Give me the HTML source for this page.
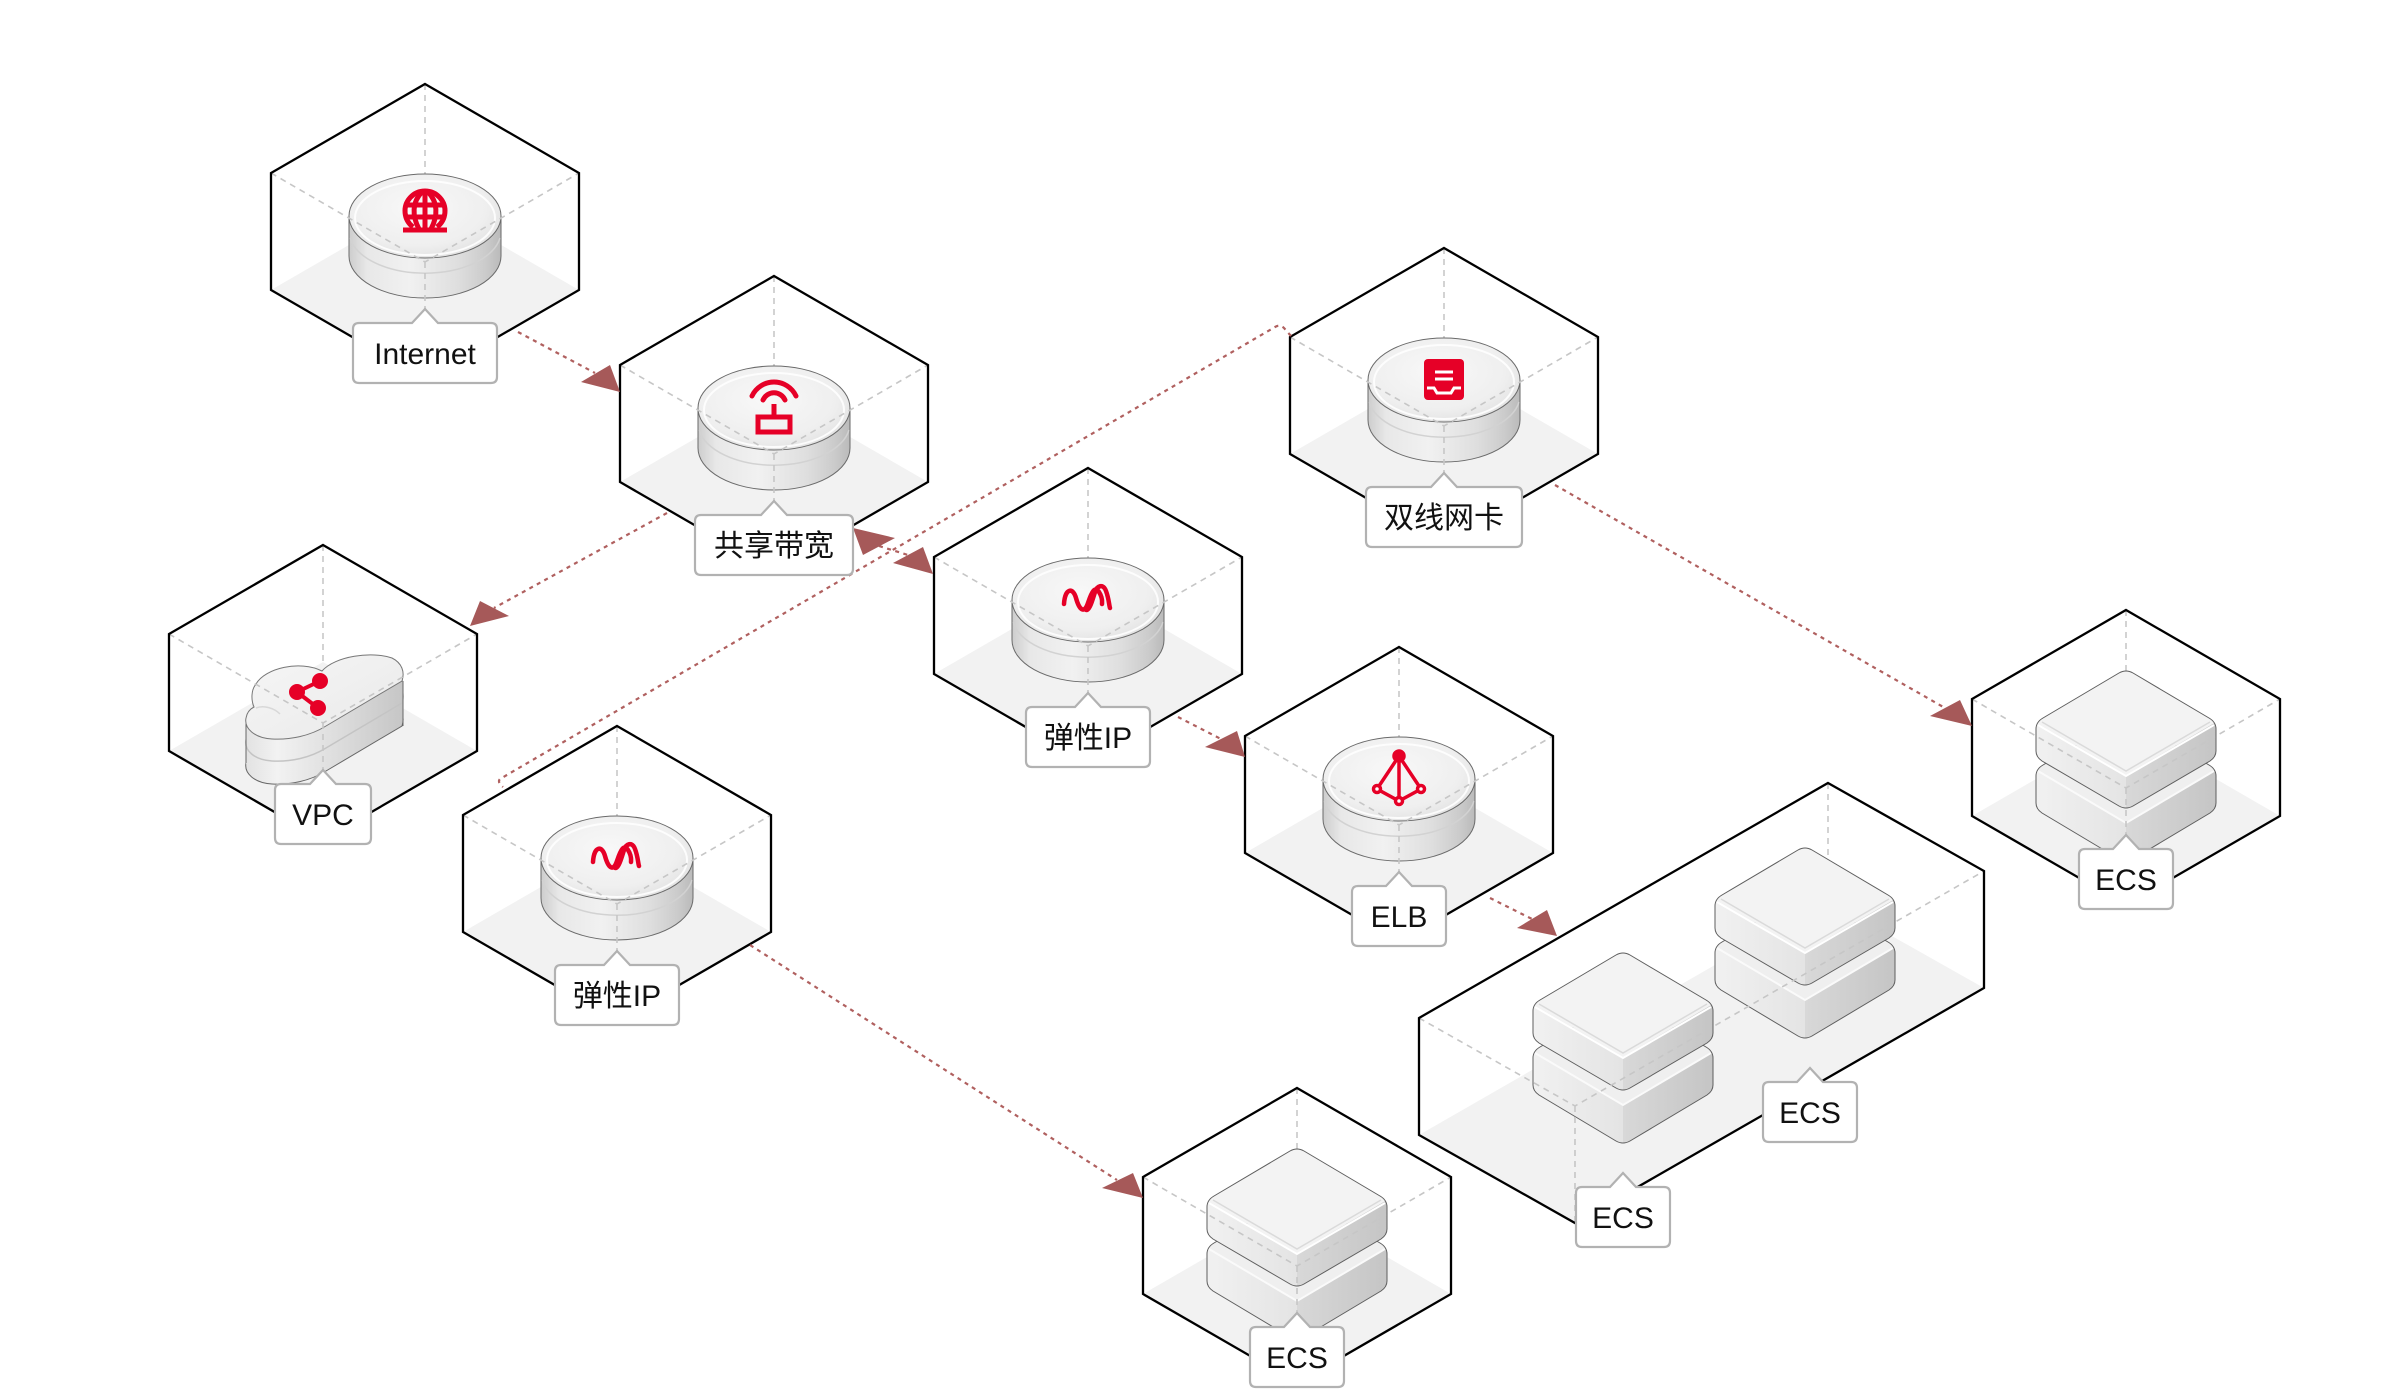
<!DOCTYPE html>
<html><head><meta charset="utf-8"><style>
html,body{margin:0;padding:0;background:#fff;}
svg{display:block;}
text{font-family:"Liberation Sans","Noto Sans CJK SC",sans-serif;font-size:30px;fill:#111;text-anchor:middle;}
</style></head><body>
<svg width="2400" height="1400" viewBox="0 0 2400 1400" xmlns="http://www.w3.org/2000/svg">
<defs>
<linearGradient id="cylSide" x1="0" x2="1" y1="0" y2="0">
<stop offset="0" stop-color="#cdcdcd"/><stop offset="0.12" stop-color="#e8e8e8"/><stop offset="0.4" stop-color="#f1f1f1"/><stop offset="0.72" stop-color="#dedede"/><stop offset="0.9" stop-color="#cbcbcb"/><stop offset="1" stop-color="#bababa"/>
</linearGradient>
<radialGradient id="cylTop" cx="0.45" cy="0.4" r="0.65">
<stop offset="0" stop-color="#f8f8f8"/><stop offset="0.7" stop-color="#efefef"/><stop offset="1" stop-color="#e0e0e0"/>
</radialGradient>
<linearGradient id="ecsL" x1="0" x2="1" y1="0" y2="0"><stop offset="0" stop-color="#f1f1f1"/><stop offset="1" stop-color="#e4e4e4"/></linearGradient>
<linearGradient id="ecsR" x1="0" x2="1" y1="0" y2="0"><stop offset="0" stop-color="#d8d8d8"/><stop offset="1" stop-color="#c5c5c5"/></linearGradient>
<linearGradient id="cloudSide" x1="0" x2="1" y1="0" y2="0"><stop offset="0" stop-color="#e2e2e2"/><stop offset="0.2" stop-color="#f2f2f2"/><stop offset="0.6" stop-color="#dcdcdc"/><stop offset="1" stop-color="#c6c6c6"/></linearGradient>
<linearGradient id="cloudTop" x1="0" x2="1" y1="0" y2="1"><stop offset="0" stop-color="#f6f6f6"/><stop offset="1" stop-color="#e9e9e9"/></linearGradient>

<g id="hb">
<path d="M-154,206 L0,117 L154,206 L0,295 Z" fill="#f2f2f2"/>
<path d="M0,0 V117" stroke="#c8c8c8" stroke-width="1.6" stroke-dasharray="6 5" fill="none"/>
</g>
<g id="hf" fill="none">
<path d="M-154,89 L0,178 L154,89 M0,178 V295" stroke="#c6c6c6" stroke-width="1.6" stroke-dasharray="6 5"/>
<path d="M0,0 L154,89 L154,206 L0,295 L-154,206 L-154,89 Z" stroke="#000" stroke-width="2.3"/>
</g>
<g id="cyl">
<path d="M-76,132 L-76,172 A76,42 0 0 0 76,172 L76,132 Z" fill="url(#cylSide)" stroke="#6a6a6a" stroke-width="1"/>
<path d="M-75,154 A76,42 0 0 0 75,154" fill="none" stroke="#d2d2d2" stroke-width="1.5"/>
<ellipse cx="0" cy="132" rx="76" ry="42" fill="url(#cylTop)" stroke="#6a6a6a" stroke-width="1"/>
<ellipse cx="0" cy="134" rx="70" ry="37" fill="none" stroke="#ffffff" stroke-width="2" opacity="0.85"/>
</g>
<clipPath id="ecsClipU"><path d="M-7,4 Q0,0 7,4 L83,49 Q90,53 90,60 V82 Q90,88 84,92 L7,137 Q0,141 -7,137 L-84,92 Q-90,88 -90,82 V60 Q-90,53 -83,49 Z"/></clipPath>
<clipPath id="ecsClipL"><path d="M-7,51 Q0,47 7,51 L83,96 Q90,100 90,107 V134 Q90,140 84,144 L7,190 Q0,194 -7,190 L-84,144 Q-90,140 -90,134 V107 Q-90,100 -83,96 Z"/></clipPath>
<g id="ecs">
<g clip-path="url(#ecsClipL)">
<path d="M0,47 L90,100 L0,153 L-90,100 Z" fill="#efefef"/>
<path d="M-90,100 L0,153 L0,194 L-90,141 Z" fill="url(#ecsL)"/>
<path d="M0,153 L90,100 L90,141 L0,194 Z" fill="url(#ecsR)"/>
<path d="M-88,102 L0,154 L88,102" fill="none" stroke="#fafafa" stroke-width="2"/>
</g>
<path d="M-7,51 Q0,47 7,51 L83,96 Q90,100 90,107 V134 Q90,140 84,144 L7,190 Q0,194 -7,190 L-84,144 Q-90,140 -90,134 V107 Q-90,100 -83,96 Z" fill="none" stroke="#5e5e5e" stroke-width="1"/>
<g clip-path="url(#ecsClipU)">
<path d="M0,0 L90,53 L0,106 L-90,53 Z" fill="#f3f3f3"/>
<path d="M-90,53 L0,106 L0,142 L-90,89 Z" fill="url(#ecsL)"/>
<path d="M0,106 L90,53 L90,89 L0,142 Z" fill="url(#ecsR)"/>
<path d="M-84,53 L0,102 L84,53" fill="none" stroke="#dadada" stroke-width="1.5"/>
<path d="M-88,56 L0,107 L88,56" fill="none" stroke="#ffffff" stroke-width="2"/>
</g>
<path d="M-7,4 Q0,0 7,4 L83,49 Q90,53 90,60 V82 Q90,88 84,92 L7,137 Q0,141 -7,137 L-84,92 Q-90,88 -90,82 V60 Q-90,53 -83,49 Z" fill="none" stroke="#5e5e5e" stroke-width="1"/>
</g>
<path id="cloudP" d="M256,684 C265,668 300,660 322,671 C335,656 372,651 392,658 C402,663 405,672 402,681 L326,726 C310,736 290,740 272,739 C254,738 244,728 246,718 C247,712 250,709 254,707 C251,700 251,690 256,684 Z"/>
<g id="eip" stroke="#e60027" stroke-width="4.5" fill="none" stroke-linecap="round">
<path d="M-24,136 C-23,120 -15,119 -12,130 S-4,147 0,135 S7,118 11,124 S14,134 14,136"/>
<path d="M-3,141 C1,146 5,130 7,124 S15,115 18,123 S21,137 22,140"/>
</g>
</defs>

<!-- floors & back edges -->
<use href="#hb" transform="translate(425,84)"/>
<use href="#hb" transform="translate(774,276)"/>
<use href="#hb" transform="translate(323,545)"/>
<use href="#hb" transform="translate(1444,248)"/>
<use href="#hb" transform="translate(1088,468)"/>
<use href="#hb" transform="translate(1399,647)"/>
<use href="#hb" transform="translate(617,726)"/>
<use href="#hb" transform="translate(2126,610)"/>
<use href="#hb" transform="translate(1297,1088)"/>
<path d="M1419,1135 L1828,900 L1984,988 L1575,1223 Z" fill="#f2f2f2"/>
<path d="M1828,783 V900" stroke="#c8c8c8" stroke-width="1.6" stroke-dasharray="6 5" fill="none"/>

<!-- cylinders -->
<use href="#cyl" transform="translate(425,84)"/>
<use href="#cyl" transform="translate(774,276)"/>
<use href="#cyl" transform="translate(1444,248)"/>
<use href="#cyl" transform="translate(1088,468)"/>
<use href="#cyl" transform="translate(1399,647)"/>
<use href="#cyl" transform="translate(617,726)"/>

<!-- icons -->
<g transform="translate(425,84)" stroke="#e60027" stroke-width="5" fill="none">
<path d="M-12,143 A20,20 0 1 1 12,143"/>
<path d="M0,107 V145"/>
<path d="M-6,145 C-13,132 -13,118 -3,108"/><path d="M6,145 C13,132 13,118 3,108"/>
<path d="M-19,121 H19"/><path d="M-19,133 H19"/>
<path d="M-22,146 H22"/>
</g>
<g transform="translate(774,276)" stroke="#e60027" stroke-width="5" fill="none">
<path d="M-22,120 A24.3,24.3 0 0 1 22,120" stroke-linecap="round"/>
<path d="M-11,124 A12,12 0 0 1 11,124" stroke-linecap="round"/>
<path d="M0,128 V141"/>
<rect x="-16" y="141" width="32" height="15"/>
</g>
<g transform="translate(1444,248)">
<rect x="-20" y="111" width="40" height="41" rx="4" fill="#e60027"/>
<path d="M-9,124 H9 M-9,131 H9 M-17,140 H-10 L-7,145 H7 L10,140 H17" stroke="#fff" stroke-width="3" fill="none"/>
</g>
<use href="#eip" transform="translate(1088,468)"/>
<use href="#eip" transform="translate(617,726)"/>
<g transform="translate(1399,647)" stroke="#e60027" stroke-width="3.5" fill="none">
<path d="M0,109 L-22,142 L0,154 L22,142 Z M0,109 V154"/>
<circle cx="0" cy="109" r="5" fill="#e60027"/>
<circle cx="-22" cy="142" r="3.5" fill="#fff"/>
<circle cx="22" cy="142" r="3.5" fill="#fff"/>
<circle cx="0" cy="154" r="3.5" fill="#fff"/>
</g>

<!-- VPC cloud -->
<g>
<use href="#cloudP" y="45" fill="url(#cloudSide)" stroke="#666" stroke-width="1"/>
<use href="#cloudP" y="40" fill="url(#cloudSide)"/>
<use href="#cloudP" y="35" fill="url(#cloudSide)"/>
<use href="#cloudP" y="30" fill="url(#cloudSide)"/>
<use href="#cloudP" y="25" fill="url(#cloudSide)"/>
<use href="#cloudP" y="22" fill="url(#cloudSide)" stroke="#c4c4c4" stroke-width="1.5"/>
<use href="#cloudP" y="18" fill="url(#cloudSide)"/>
<use href="#cloudP" y="14" fill="url(#cloudSide)"/>
<use href="#cloudP" y="10" fill="url(#cloudSide)"/>
<use href="#cloudP" y="6" fill="url(#cloudSide)"/>
<use href="#cloudP" y="3" fill="url(#cloudSide)"/>
<path d="M246,718 L246,763 M403,681 L403,726" stroke="#666" stroke-width="1"/>
<use href="#cloudP" fill="url(#cloudTop)" stroke="#777" stroke-width="1"/>
<path d="M256,708 C264,705 274,708 280,714" fill="none" stroke="#d8d8d8" stroke-width="1.5"/>
<g stroke="#e60027" stroke-width="4" fill="#e60027">
<path d="M320,681 L297,692 L318,708" fill="none"/>
<circle cx="320" cy="681" r="6"/><circle cx="297" cy="692" r="6"/><circle cx="318" cy="708" r="6"/>
</g>
</g>

<!-- ECS icons -->
<use href="#ecs" transform="translate(2126,669)"/>
<use href="#ecs" transform="translate(1297,1147)"/>
<use href="#ecs" transform="translate(1805,846)"/>
<use href="#ecs" transform="translate(1623,951)"/>

<!-- front edges & outlines -->
<use href="#hf" transform="translate(425,84)"/>
<use href="#hf" transform="translate(774,276)"/>
<use href="#hf" transform="translate(323,545)"/>
<use href="#hf" transform="translate(1444,248)"/>
<use href="#hf" transform="translate(1088,468)"/>
<use href="#hf" transform="translate(1399,647)"/>
<use href="#hf" transform="translate(617,726)"/>
<use href="#hf" transform="translate(2126,610)"/>
<use href="#hf" transform="translate(1297,1088)"/>
<path d="M1419,1018 L1575,1106 L1984,871 M1575,1106 V1223" stroke="#c6c6c6" stroke-width="1.6" stroke-dasharray="6 5" fill="none"/>
<path d="M1828,783 L1984,871 L1984,988 L1575,1223 L1419,1135 L1419,1018 Z" stroke="#000" stroke-width="2.3" fill="none"/>

<!-- connectors -->
<g stroke="#b0605f" stroke-width="2.2" stroke-dasharray="4 4.5" fill="none">
<path d="M518,332 L595,373"/>
<path d="M667,513 L494,608"/>
<path d="M879,546 L908,555"/>
<path d="M1178,717 L1221,739"/>
<path d="M1490,898 L1532,919"/>
<path d="M1555,485 L1945,708"/>
<path d="M750,945 L1117,1180"/>
<path d="M1291,336 L1284,328 Q1280,324 1275,327 L500,779 Q497,782 503,787"/>
</g>
<g fill="#a65959">
<polygon points="620,392 581,382 610,365"/>
<polygon points="470,626 480,601 509,616"/>
<polygon points="853,528 863,555 895,538"/>
<polygon points="933,574 893,563 923,547"/>
<polygon points="1245,757 1205,747 1237,731"/>
<polygon points="1557,936 1517,928 1547,910"/>
<polygon points="1972,726 1930,716 1960,700"/>
<polygon points="1143,1198 1102,1188 1133,1173"/>
</g>

<!-- labels -->
<g fill="#fff" stroke="#b2b2b2" stroke-width="2.2">
<path d="M359,323 H412 L425,309 L438,323 H491 Q497,323 497,329 V377 Q497,383 491,383 H359 Q353,383 353,377 V329 Q353,323 359,323 Z"/>
<path d="M701,515 H761 L774,501 L787,515 H847 Q853,515 853,521 V569 Q853,575 847,575 H701 Q695,575 695,569 V521 Q695,515 701,515 Z"/>
<path d="M281,784 H310 L323,770 L336,784 H365 Q371,784 371,790 V838 Q371,844 365,844 H281 Q275,844 275,838 V790 Q275,784 281,784 Z"/>
<path d="M1372,487 H1431 L1444,473 L1457,487 H1516 Q1522,487 1522,493 V541 Q1522,547 1516,547 H1372 Q1366,547 1366,541 V493 Q1366,487 1372,487 Z"/>
<path d="M1032,707 H1075 L1088,693 L1101,707 H1144 Q1150,707 1150,713 V761 Q1150,767 1144,767 H1032 Q1026,767 1026,761 V713 Q1026,707 1032,707 Z"/>
<path d="M1358,886 H1386 L1399,872 L1412,886 H1440 Q1446,886 1446,892 V940 Q1446,946 1440,946 H1358 Q1352,946 1352,940 V892 Q1352,886 1358,886 Z"/>
<path d="M561,965 H604 L617,951 L630,965 H673 Q679,965 679,971 V1019 Q679,1025 673,1025 H561 Q555,1025 555,1019 V971 Q555,965 561,965 Z"/>
<path d="M2085,849 H2113 L2126,835 L2139,849 H2167 Q2173,849 2173,855 V903 Q2173,909 2167,909 H2085 Q2079,909 2079,903 V855 Q2079,849 2085,849 Z"/>
<path d="M1256,1327 H1284 L1297,1313 L1310,1327 H1338 Q1344,1327 1344,1333 V1381 Q1344,1387 1338,1387 H1256 Q1250,1387 1250,1381 V1333 Q1250,1327 1256,1327 Z"/>
<path d="M1582,1187 H1610 L1623,1173 L1636,1187 H1664 Q1670,1187 1670,1193 V1241 Q1670,1247 1664,1247 H1582 Q1576,1247 1576,1241 V1193 Q1576,1187 1582,1187 Z"/>
<path d="M1769,1082 H1797 L1810,1068 L1823,1082 H1851 Q1857,1082 1857,1088 V1136 Q1857,1142 1851,1142 H1769 Q1763,1142 1763,1136 V1088 Q1763,1082 1769,1082 Z"/>
</g>
<text x="425" y="364">Internet</text>
<text x="774" y="556">共享带宽</text>
<text x="323" y="825">VPC</text>
<text x="1444" y="528">双线网卡</text>
<text x="1088" y="748">弹性IP</text>
<text x="1399" y="927">ELB</text>
<text x="617" y="1006">弹性IP</text>
<text x="2126" y="890">ECS</text>
<text x="1297" y="1368">ECS</text>
<text x="1623" y="1228">ECS</text>
<text x="1810" y="1123">ECS</text>
</svg>
</body></html>
